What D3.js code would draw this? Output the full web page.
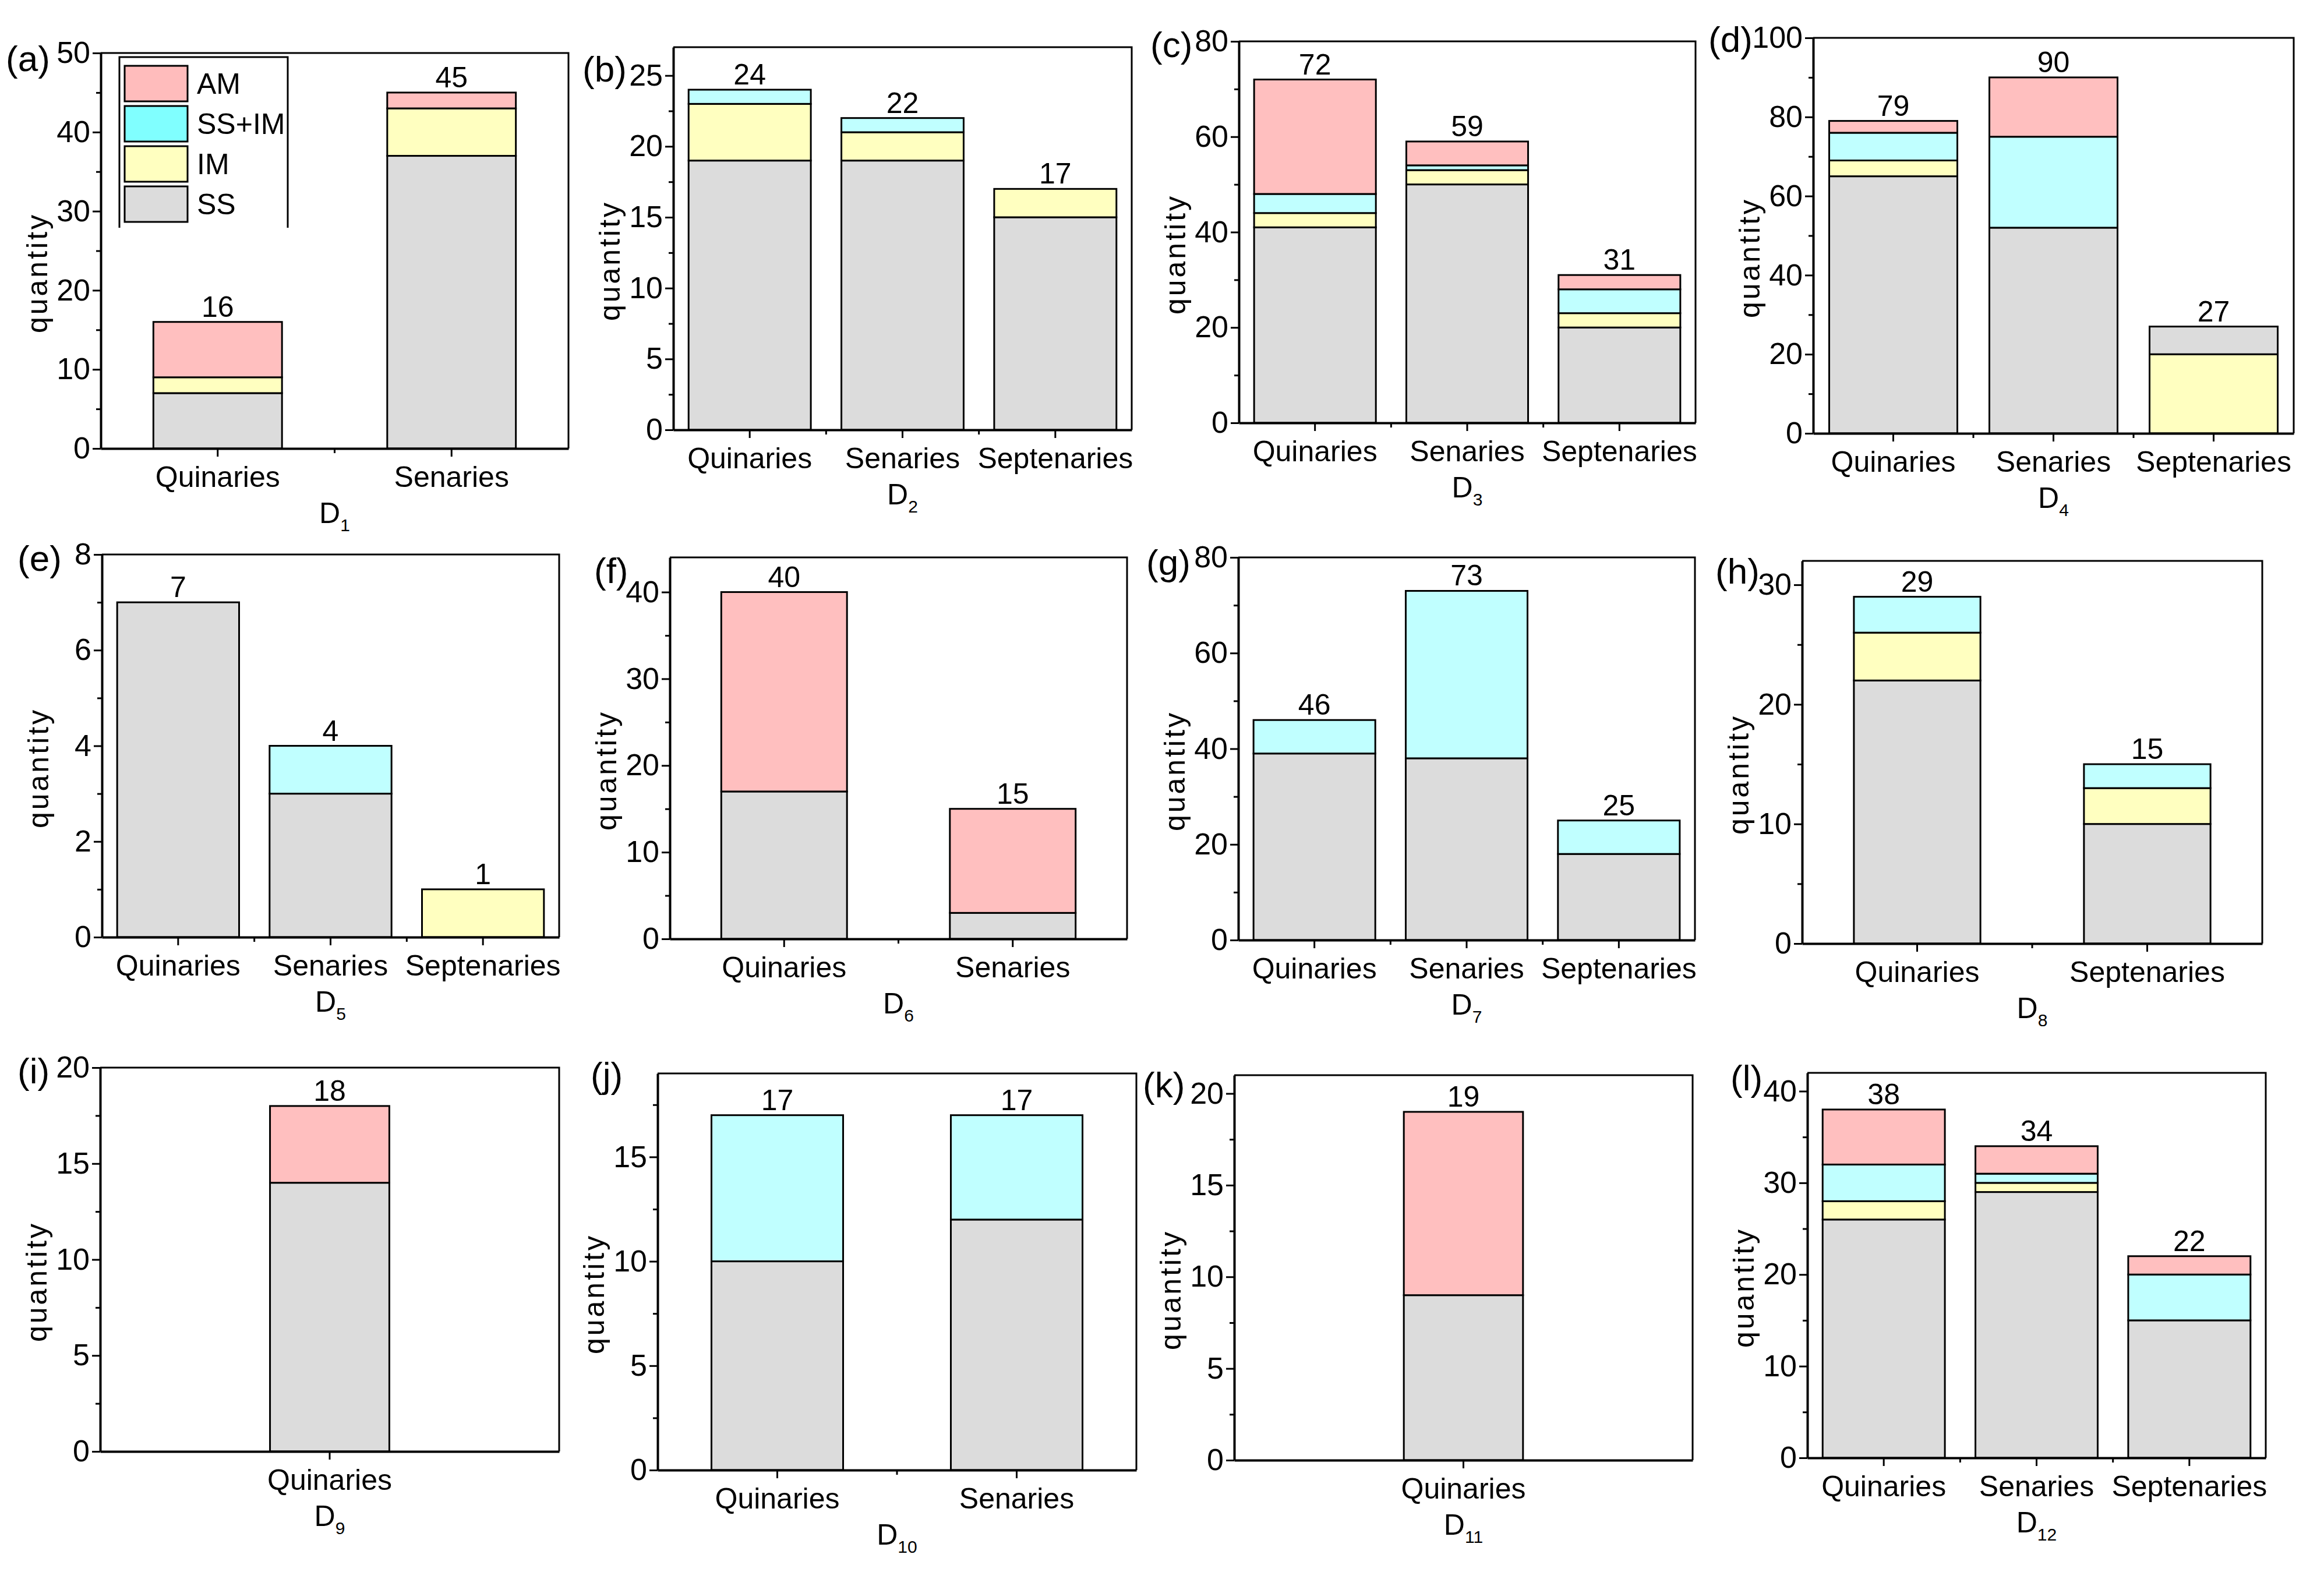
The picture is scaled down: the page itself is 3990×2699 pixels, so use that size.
<!DOCTYPE html>
<html>
<head>
<meta charset="utf-8">
<script src="https://cdn.jsdelivr.net/npm/d3@7"></script>
<style>
  body { margin: 0; background: #fff; }
</style>
</head>
<body>
<div id='chart'></div>
<script>

// Chart data, one entry per panel (a) .. (l)
const panelTags = ['a', 'b', 'c', 'd', 'e', 'f', 'g', 'h', 'i', 'j', 'k', 'l'];
const axisSubs = ['1', '2', '3', '4', '5', '6', '7', '8', '9', '10', '11', '12'];
const categories = [
  ['Quinaries', 'Senaries'],
  ['Quinaries', 'Senaries', 'Septenaries'],
  ['Quinaries', 'Senaries', 'Septenaries'],
  ['Quinaries', 'Senaries', 'Septenaries'],
  ['Quinaries', 'Senaries', 'Septenaries'],
  ['Quinaries', 'Senaries'],
  ['Quinaries', 'Senaries', 'Septenaries'],
  ['Quinaries', 'Septenaries'],
  ['Quinaries'],
  ['Quinaries', 'Senaries'],
  ['Quinaries'],
  ['Quinaries', 'Senaries', 'Septenaries']
];
const ssValues   = [[7, 37], [19, 19, 15], [41, 50, 20], [65, 52, 7], [7, 3, 0], [17, 3], [39, 38, 18], [22, 10], [14], [10, 12], [9], [26, 29, 15]];
const imValues   = [[2, 6],  [4, 2, 2],   [3, 3, 3],    [4, 0, 20], [0, 0, 1], [0, 0],  [0, 0, 0],    [4, 3],   [0],  [0, 0],   [0], [2, 1, 0]];
const ssimValues = [[0, 0],  [1, 1, 0],   [4, 1, 5],    [7, 23, 0], [0, 1, 0], [0, 0],  [7, 35, 7],   [3, 2],   [0],  [7, 5],   [0], [4, 1, 5]];
const amValues   = [[7, 2],  [0, 0, 0],   [24, 5, 3],   [3, 15, 0], [0, 0, 0], [23, 12], [0, 0, 0],  [0, 0],   [4],  [0, 0],   [10], [6, 3, 2]];
// bars where IM sits below SS: [panel, category]
const imBelowSS = [[3, 2]];
const yMax  = [50, 27, 80, 100, 8, 44, 80, 32, 20, 19, 21, 42];
const yStep = [10, 5, 20, 20, 2, 10, 20, 10, 5, 5, 5, 10];
const legendNames = ['AM', 'SS+IM', 'IM', 'SS'];

// Colours
const colors = { SS: '#dcdcdc', IM: '#ffffc0', SSIM: '#c0ffff', AM: '#ffbfbf' };
const legendColors = ['#ffbcbc', '#80ffff', '#ffffc0', '#dcdcdc'];
const font_family = "'Liberation Sans', Arial, sans-serif";

// Layout: plot frames [left, top, right, bottom] and panel tag positions
const frames = [
  [173, 91, 976, 770], [1156, 81, 1943, 738], [2127, 71, 2911, 726], [3113, 65, 3938, 744],
  [175, 952, 960, 1609], [1150, 957, 1935, 1612], [2126, 957, 2910, 1614], [3094, 963, 3884, 1620],
  [172, 1833, 960, 2492], [1129, 1843, 1951, 2524], [2119, 1846, 2906, 2507], [3103, 1842, 3890, 2503]
];
const tagPos = [
  [10, 100], [1000, 118], [1975, 76], [2933, 67],
  [30, 958], [1020, 979], [1968, 965], [2945, 980],
  [30, 1838], [1014, 1845], [1962, 1862], [2971, 1850]
];

const svg = d3.select('div#chart').append('svg')
  .attr('width', 3990)
  .attr('height', 2699)
  .style('background', '#fff');

const defaultOrder = ['SS', 'IM', 'SSIM', 'AM'];
const seriesValues = { SS: ssValues, IM: imValues, SSIM: ssimValues, AM: amValues };

panelTags.forEach((tag, p) => {
  const [left, top, right, bottom] = frames[p];
  const cats = categories[p];
  const n = cats.length;
  const pad = n === 1 ? 0.74 : (n === 2 ? 0.45 : 0.2);

  const x = d3.scaleBand().domain(cats).range([left, right])
    .paddingInner(pad).paddingOuter(pad / 2);
  const y = d3.scaleLinear().domain([0, yMax[p]]).range([bottom, top]);

  const g = svg.append('g').attr('class', 'panel-' + tag);

  // stacked segments
  cats.forEach((c, i) => {
    let order = defaultOrder;
    if (imBelowSS.some(d => d[0] === p && d[1] === i)) order = ['IM', 'SS', 'SSIM', 'AM'];
    let base = 0;
    order.forEach(key => {
      const v = seriesValues[key][p][i];
      if (v > 0) {
        g.append('rect')
          .attr('x', x(c))
          .attr('width', x.bandwidth())
          .attr('y', y(base + v))
          .attr('height', y(base) - y(base + v))
          .attr('fill', colors[key])
          .attr('stroke', '#000')
          .attr('stroke-width', 3);
      }
      base += v;
    });
    // total on top
    g.append('text')
      .attr('x', x(c) + x.bandwidth() / 2)
      .attr('y', y(base) - 9)
      .attr('text-anchor', 'middle')
      .attr('font-family', font_family)
      .attr('font-size', 50)
      .text(base);
  });

  // frame (top + right)
  g.append('path')
    .attr('d', `M${left},${top}H${right}V${bottom}`)
    .attr('fill', 'none')
    .attr('stroke', '#000')
    .attr('stroke-width', 3);

  // y axis
  const majors = d3.range(0, yMax[p] + 1e-9, yStep[p]);
  const minors = majors.map(v => v + yStep[p] / 2).filter(v => v < yMax[p]);
  const yAx = g.append('g')
    .attr('transform', `translate(${left},0)`)
    .call(d3.axisLeft(y).tickValues(majors).tickSize(14).tickSizeOuter(0).tickPadding(4).tickFormat(d3.format('d')));
  g.append('g')
    .attr('transform', `translate(${left},0)`)
    .call(d3.axisLeft(y).tickValues(minors).tickSize(8).tickFormat(''))
    .call(a => a.select('.domain').remove());

  // x axis
  const xAx = g.append('g')
    .attr('transform', `translate(0,${bottom})`)
    .call(d3.axisBottom(x).tickSize(14).tickSizeOuter(0).tickPadding(16));
  for (let k = 1; k < n; k++) {
    const bx = left + k * x.step();
    g.append('line')
      .attr('x1', bx).attr('x2', bx)
      .attr('y1', bottom).attr('y2', bottom + 8)
      .attr('stroke', '#000').attr('stroke-width', 3);
  }

  [yAx, xAx].forEach(a => {
    a.attr('font-family', font_family).attr('font-size', 52);
    a.selectAll('.domain').attr('stroke-width', 4);
    a.selectAll('.tick line').attr('stroke-width', 3);
    a.selectAll('.tick text').attr('fill', '#000');
  });
  xAx.attr('font-size', 50);
  g.selectAll('g line').attr('stroke-width', 3);

  // y title
  g.append('text')
    .attr('transform', `translate(${left - 92},${(top + bottom) / 2 + 38}) rotate(-90)`)
    .attr('text-anchor', 'middle')
    .attr('font-family', font_family)
    .attr('font-size', 50)
    .attr('letter-spacing', 4)
    .text('quantity');

  // x title D_n
  const xt = g.append('text')
    .attr('x', (left + right) / 2)
    .attr('y', bottom + 128)
    .attr('text-anchor', 'middle')
    .attr('font-family', font_family)
    .attr('font-size', 50);
  xt.append('tspan').text('D');
  xt.append('tspan').attr('font-size', 30).attr('dy', 14).text(axisSubs[p]);

  // panel tag
  svg.append('text')
    .attr('x', tagPos[p][0])
    .attr('y', tagPos[p][1])
    .attr('dy', '0.35em')
    .attr('font-family', font_family)
    .attr('font-size', 62)
    .text(`(${tag})`);

  // legend only in panel (a)
  if (p === 0) {
    const lx = left + 32, ly = top + 7;
    g.append('path')
      .attr('d', `M${lx},${ly + 293}V${ly}H${lx + 289}V${ly + 293}`)
      .attr('fill', 'none')
      .attr('stroke', '#000')
      .attr('stroke-width', 3);
    legendNames.forEach((name, k) => {
      const ry = ly + 15 + k * 69;
      g.append('rect')
        .attr('x', lx + 9).attr('y', ry)
        .attr('width', 108).attr('height', 61)
        .attr('fill', legendColors[k])
        .attr('stroke', '#000').attr('stroke-width', 3);
      g.append('text')
        .attr('x', lx + 133).attr('y', ry + 48)
        .attr('font-family', font_family)
        .attr('font-size', 50)
        .text(name);
    });
  }
});

</script>
</body>
</html>
